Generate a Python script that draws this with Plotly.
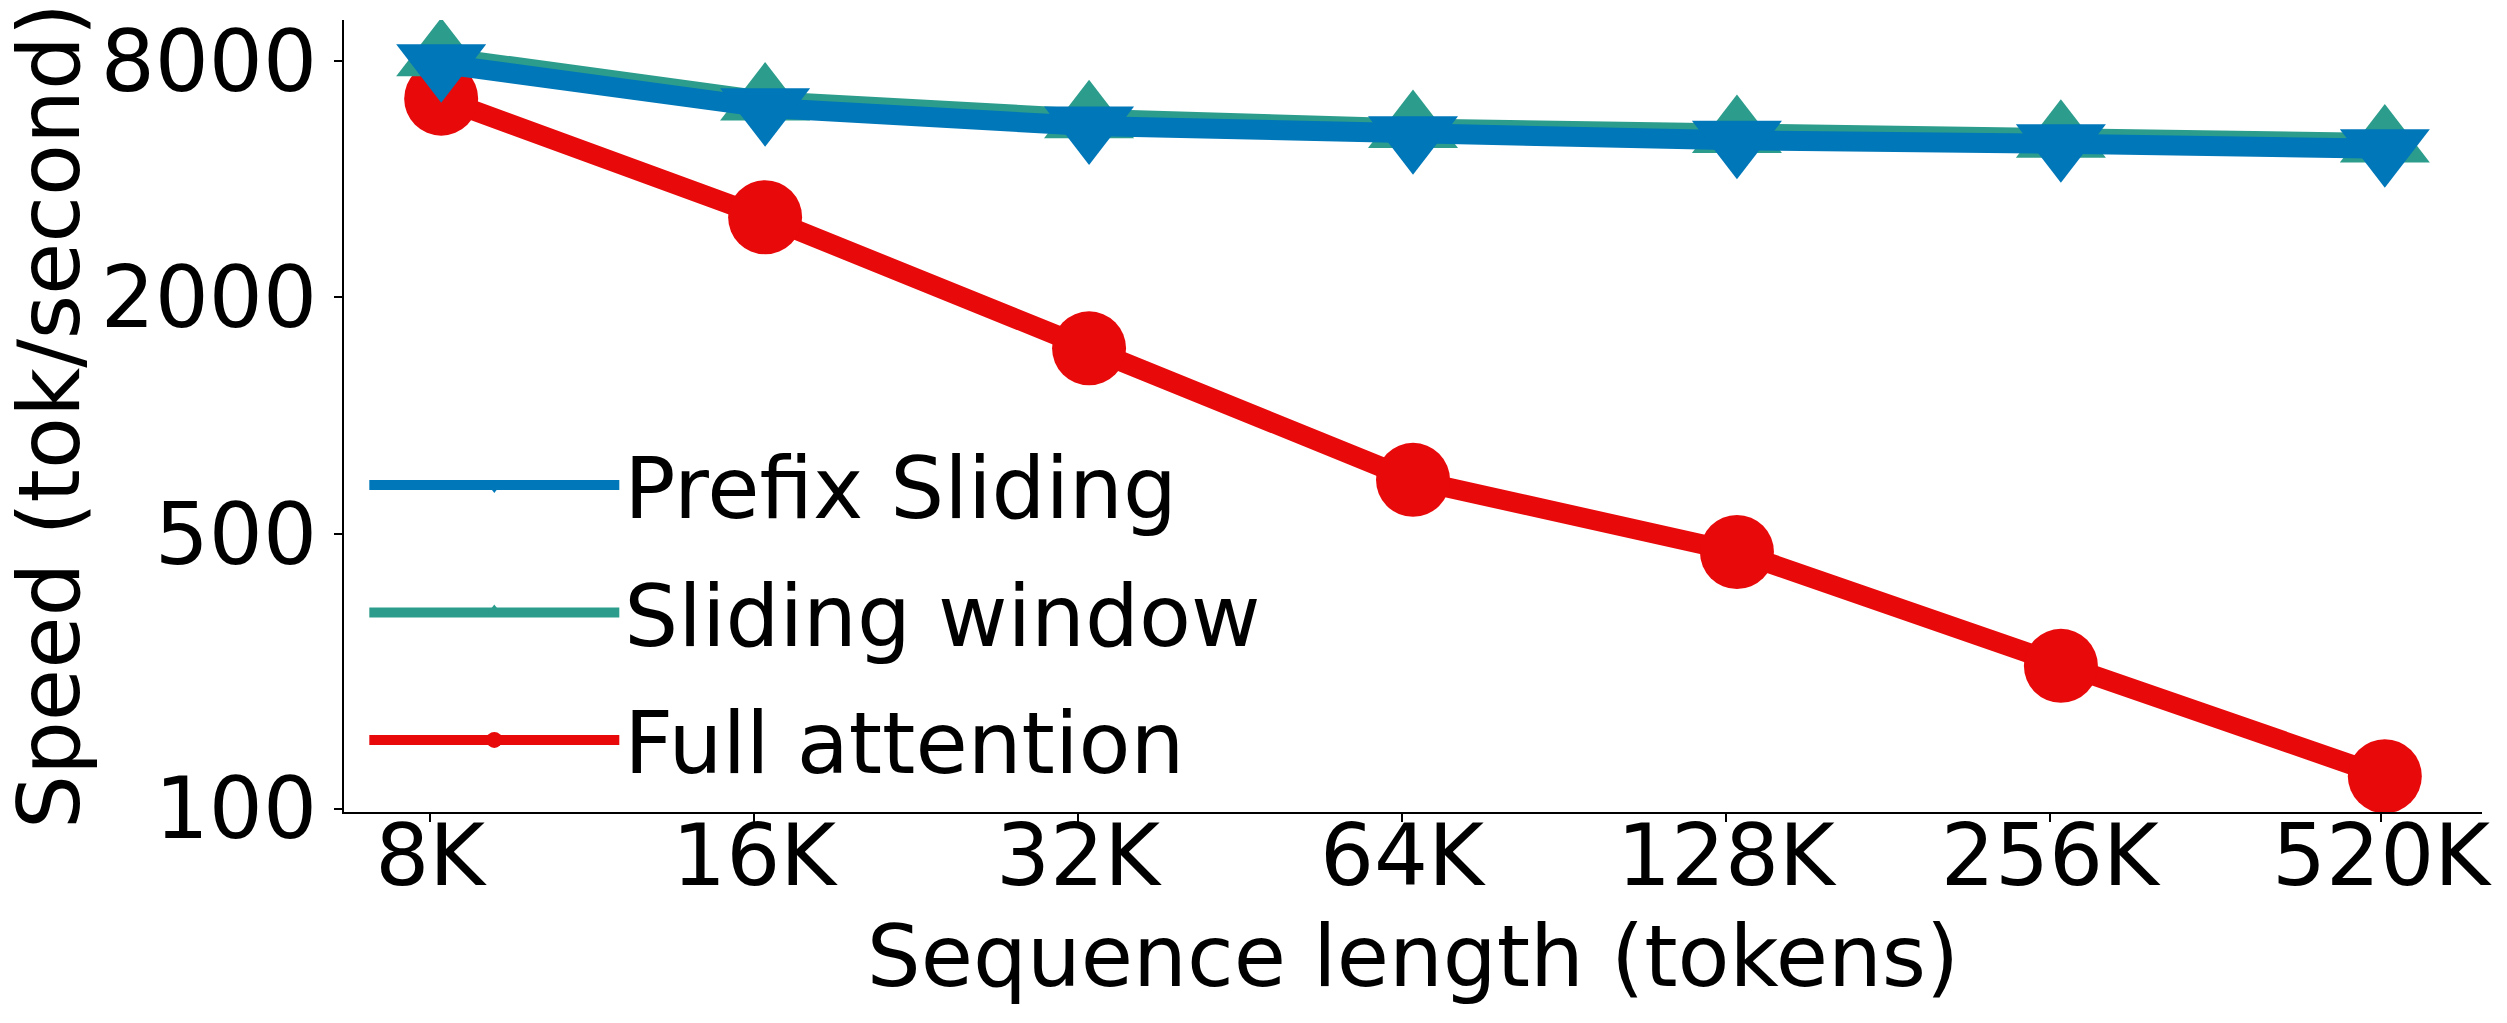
import math
import plotly.graph_objects as go

# ---- data ----
seq_tokens = [8192, 16384, 32768, 65536, 131072, 262144, 524288]
x_tick_vals = [8000, 16000, 32000, 64000, 128000, 256000, 520000]
x_tick_labels = ["8K", "16K", "32K", "64K", "128K", "256K", "520K"]

prefix_sliding = [7860, 6080, 5460, 5160, 5020, 4920, 4780]
sliding_window = [8190, 6320, 5700, 5380, 5230, 5080, 4945]
full_attention = [6410, 3200, 1484, 687, 450, 231, 121]

y_tick_vals = [100, 500, 2000, 8000]
y_tick_labels = ["100", "500", "2000", "8000"]

# ---- style ----
BLUE = "#0077B8"
TEAL = "#2C9D8C"
RED = "#E8090B"
FONT = "DejaVu Sans"
FS = 85

fig = go.Figure()
fig.add_trace(go.Scatter(
    x=seq_tokens, y=full_attention, name="Full attention", mode="lines+markers",
    legendgroup="full", legendrank=3,
    line=dict(color=RED, width=20),
    marker=dict(symbol="circle", size=74, color=RED, line=dict(width=0)),
))
fig.add_trace(go.Scatter(
    x=seq_tokens, y=sliding_window, name="Sliding window", mode="lines+markers",
    legendgroup="sliding", legendrank=2,
    line=dict(color=TEAL, width=20),
    marker=dict(symbol="triangle-up", size=78, color=TEAL, line=dict(width=0)),
))
fig.add_trace(go.Scatter(
    x=seq_tokens, y=prefix_sliding, name="Prefix Sliding", mode="lines+markers",
    legendgroup="prefix", legendrank=1,
    line=dict(color=BLUE, width=20),
    marker=dict(symbol="triangle-down", size=78, color=BLUE, line=dict(width=0)),
))

lx0 = math.log10(seq_tokens[0]) - 0.3 * math.log10(2)
lx1 = math.log10(seq_tokens[-1]) + 0.3 * math.log10(2)

fig.update_layout(
    width=2507, height=1023,
    margin=dict(l=344, r=25, t=16, b=211, pad=0),
    paper_bgcolor="white", plot_bgcolor="white",
    font=dict(family=FONT, size=FS, color="black"),
    showlegend=True,
    legend=dict(
        x=0.0095, y=0.491, xanchor="left", yanchor="top",
        traceorder="grouped", bgcolor="rgba(0,0,0,0)",
        font=dict(family=FONT, size=FS, color="black"),
        itemwidth=250, tracegroupgap=14,
    ),
    xaxis=dict(
        type="log", range=[lx0, lx1],
        tickmode="array", tickvals=x_tick_vals, ticktext=x_tick_labels,
        showline=True, linecolor="black", linewidth=2,
        ticks="outside", ticklen=8, tickwidth=2, tickcolor="black",
        ticklabelstandoff=-39, ticklabeloverflow="allow",
        showgrid=False, zeroline=False,
        tickfont=dict(family=FONT, size=FS, color="black"),
        title=dict(text="Sequence length (tokens)", font=dict(family=FONT, size=FS, color="black"), standoff=22),
    ),
    yaxis=dict(
        type="log", range=[1.9917, 4.007],
        tickmode="array", tickvals=y_tick_vals, ticktext=y_tick_labels,
        showline=True, linecolor="black", linewidth=2,
        ticks="outside", ticklen=8, tickwidth=2, tickcolor="black",
        ticklabeloverflow="allow",
        showgrid=False, zeroline=False,
        tickfont=dict(family=FONT, size=FS, color="black"),
        title=dict(text="Speed (tok/second)", font=dict(family=FONT, size=FS, color="black"), standoff=10),
    ),
)

fig.write_html("out.html", config={"displayModeBar": False},
               post_script="document.body.style.margin='0px';")
